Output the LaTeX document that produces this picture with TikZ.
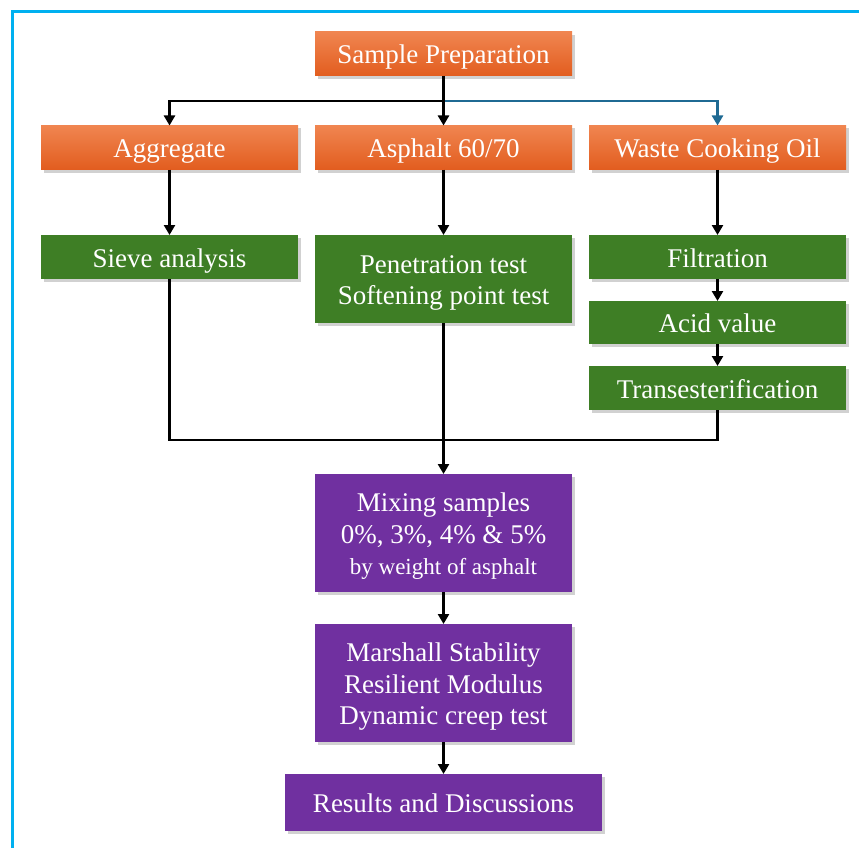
\documentclass[tikz,border=0pt]{standalone}
\usepackage{fontspec}
\setmainfont{Liberation Serif}
\usetikzlibrary{arrows.meta,shadows}
\definecolor{frameblue}{HTML}{00B0F0}
\definecolor{orangetop}{HTML}{F08550}
\definecolor{orangebot}{HTML}{E25D1F}
\definecolor{boxgreen}{HTML}{3E7E25}
\definecolor{boxpurple}{HTML}{7030A0}
\definecolor{linkblue}{HTML}{1F6A93}
\newcommand{\boxtext}[1]{\raisebox{-3.7pt}[\height][\depth]{\begin{tabular}{@{}c@{}}#1\end{tabular}}}
\tikzset{
  basebox/.style={minimum width=257pt, inner sep=0pt, outer sep=0pt, text=white,
    font=\fontsize{27}{31.5}\selectfont,
    drop shadow={shadow xshift=2.5pt, shadow yshift=-3pt, opacity=0.3, fill=black!60}},
  orangebox/.style={basebox, top color=orangetop, bottom color=orangebot, minimum height=44pt},
  greenbox/.style={basebox, fill=boxgreen},
  purplebox/.style={basebox, fill=boxpurple},
  arr/.style={line width=2.6pt, draw=black, -{Triangle[width=11pt,length=10pt]}},
  arrblue/.style={line width=2.6pt, draw=linkblue, -{Triangle[width=11pt,length=10pt]}},
  plainline/.style={line width=2.6pt, draw=black},
}
\begin{document}
\begin{tikzpicture}[x=1pt,y=-1pt]
\useasboundingbox (0,0) rectangle (859,848);
\draw[frameblue, line width=3pt] (12.5,848) -- (12.5,11.5) -- (859,11.5);

\node[orangebox] (sp) at (443.5,54) {\boxtext{Sample Preparation}};
\node[orangebox] (agg) at (169.5,147.5) {\boxtext{Aggregate}};
\node[orangebox] (asph) at (443.5,147.5) {\boxtext{Asphalt 60/70}};
\node[orangebox] (wco) at (717.5,147.5) {\boxtext{Waste Cooking Oil}};

\node[greenbox, minimum height=44pt] (sieve) at (169.5,257) {\boxtext{Sieve analysis}};
\node[greenbox, minimum height=88pt] (pen) at (443.5,279) {\boxtext{Penetration test\\Softening point test}};
\node[greenbox, minimum height=44pt] (filt) at (717.5,257) {\boxtext{Filtration}};
\node[greenbox, minimum height=43pt] (acid) at (717.5,322.5) {\boxtext{Acid value}};
\node[greenbox, minimum height=44pt] (trans) at (717.5,388) {\boxtext{Transesterification}};

\node[purplebox, minimum height=118pt] (mix) at (443.5,533) {\boxtext{Mixing samples\\0\%, 3\%, 4\% \& 5\%\\{\fontsize{23}{28}\selectfont by weight of asphalt}}};
\node[purplebox, minimum height=118pt] (marsh) at (443.5,683) {\boxtext{Marshall Stability\\Resilient Modulus\\Dynamic creep test}};
\node[purplebox, minimum width=317pt, minimum height=57pt] (res) at (443.5,802.5) {\boxtext{Results and Discussions}};

\coordinate (j1) at (443.5,101);
\coordinate (j2) at (443.5,440);

\draw[arrblue] (j1) -| (wco.north);
\draw[arr] (j1) -| (agg.north);
\draw[arr] (sp.south) -- (asph.north);

\draw[arr] (agg.south) -- (sieve.north);
\draw[arr] (asph.south) -- (pen.north);
\draw[arr] (wco.south) -- (filt.north);
\draw[arr] (filt.south) -- (acid.north);
\draw[arr] (acid.south) -- (trans.north);

\draw[plainline] (sieve.south) |- (j2);
\draw[plainline] (trans.south) |- (j2);
\draw[arr] (pen.south) -- (mix.north);
\draw[arr] (mix.south) -- (marsh.north);
\draw[arr] (marsh.south) -- (res.north);
\end{tikzpicture}
\end{document}
